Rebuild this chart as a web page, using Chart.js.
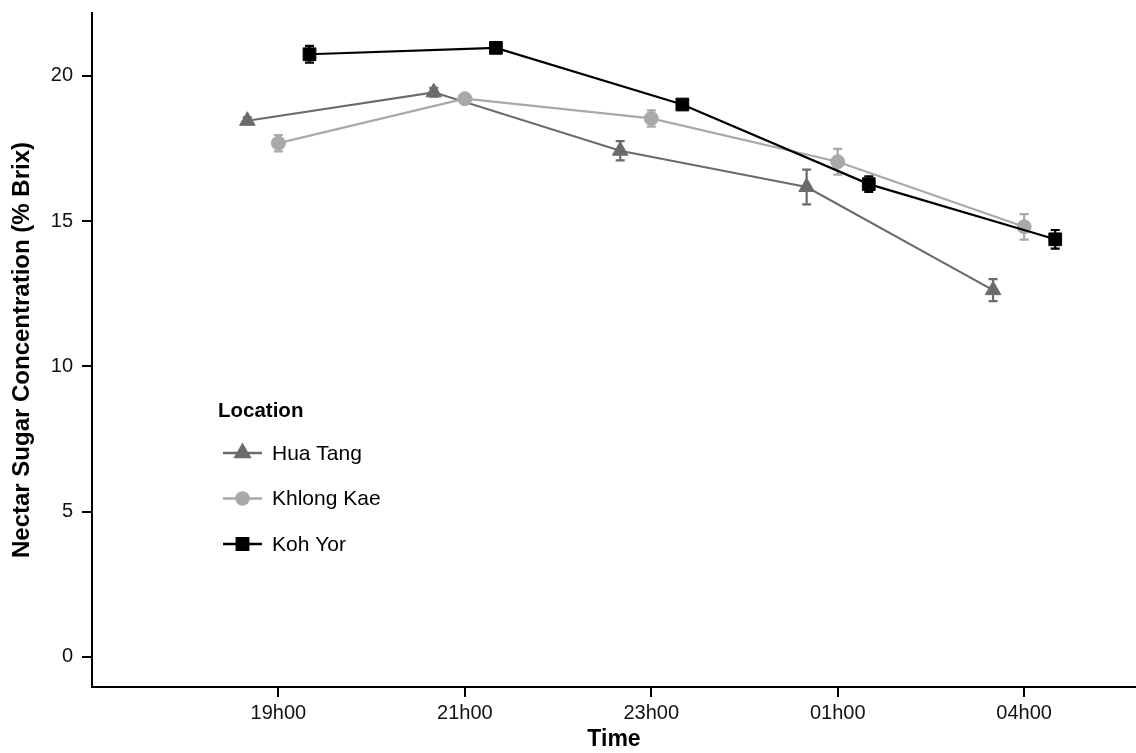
<!DOCTYPE html>
<html>
<head>
<meta charset="utf-8">
<title>Nectar Sugar Concentration</title>
<script src="https://cdn.jsdelivr.net/npm/chart.js@4/dist/chart.umd.min.js"></script>
<style>
  html, body { margin: 0; padding: 0; background: #fff; }
  #wrap { width: 1136px; height: 753px; position: relative; }
</style>
</head>
<body>
<div id="wrap"><canvas id="c"></canvas></div>
<script>
// Sampling times (x categories) and locations (series)
const times = ['19h00', '21h00', '23h00', '01h00', '04h00'];
const locations = ['Hua Tang', 'Khlong Kae', 'Koh Yor'];

// Mean nectar sugar concentration (% Brix) and standard error per time
const huaTang     = [18.45, 19.43, 17.42, 16.17, 12.62];
const huaTangSE   = [0.12, 0.15, 0.33, 0.60, 0.38];
const khlongKae   = [17.68, 19.21, 18.53, 17.04, 14.80];
const khlongKaeSE = [0.28, 0.10, 0.28, 0.44, 0.44];
const kohYor      = [20.74, 20.96, 19.01, 16.27, 14.37];
const kohYorSE    = [0.29, 0.10, 0.10, 0.27, 0.32];

const yTicks = [0, 5, 10, 15, 20];

const means = [huaTang, khlongKae, kohYor];
const errors = [huaTangSE, khlongKaeSE, kohYorSE];

// Series appearance
const colors = ['#6b6b6b', '#a9a9a9', '#000000'];
const shapes = ['triangle', 'circle', 'rect'];
const radii = [9, 7, 9];
const dodge = [-1 / 6, 0, 1 / 6];   // position_dodge(0.5) with three groups

const FONT = '"Liberation Sans", Arial, Helvetica, sans-serif';

const datasets = locations.map((name, s) => ({
  label: name,
  data: means[s].map((v, i) => ({ x: i + 1 + dodge[s], y: v, se: errors[s][i] })),
  borderColor: colors[s],
  backgroundColor: colors[s],
  borderWidth: 2.2,
  pointStyle: shapes[s],
  pointRadius: radii[s],
  pointHoverRadius: radii[s],
  pointBorderWidth: 1,
  pointBackgroundColor: colors[s],
  pointBorderColor: colors[s],
  tension: 0,
  order: 2 - s
}));

// Vertical error bars (mean ± SE) drawn with each dataset
const errorBars = {
  id: 'errorBars',
  afterDatasetDraw(chart, args) {
    const ds = chart.data.datasets[args.index];
    const xs = chart.scales.x, ys = chart.scales.y;
    const ctx = chart.ctx;
    ctx.save();
    ctx.strokeStyle = ds.borderColor;
    ctx.lineWidth = 2.2;
    ds.data.forEach(p => {
      const x = xs.getPixelForValue(p.x);
      const yLo = ys.getPixelForValue(p.y - p.se);
      const yHi = ys.getPixelForValue(p.y + p.se);
      const w = 4.5;
      ctx.beginPath();
      ctx.moveTo(x, yLo); ctx.lineTo(x, yHi);
      ctx.moveTo(x - w, yLo); ctx.lineTo(x + w, yLo);
      ctx.moveTo(x - w, yHi); ctx.lineTo(x + w, yHi);
      ctx.stroke();
    });
    ctx.restore();
  }
};

// Legend inside the plotting area
const insideLegend = {
  id: 'insideLegend',
  afterDraw(chart) {
    const ctx = chart.ctx;
    ctx.save();
    ctx.fillStyle = '#000';
    ctx.textBaseline = 'middle';
    ctx.textAlign = 'left';
    ctx.font = 'bold 20.5px ' + FONT;
    ctx.fillText('Location', 218, 411);
    ctx.font = '21px ' + FONT;
    chart.data.datasets.forEach((ds, s) => {
      const y = 453 + s * 45.5;
      ctx.strokeStyle = ds.borderColor;
      ctx.lineWidth = 2.5;
      ctx.beginPath();
      ctx.moveTo(223, y); ctx.lineTo(262, y);
      ctx.stroke();
      ctx.fillStyle = ds.borderColor;
      Chart.helpers.drawPoint(ctx, {
        pointStyle: ds.pointStyle, rotation: 0,
        radius: ds.pointRadius - 1, borderWidth: 1
      }, 242.5, y);
      ctx.fillStyle = '#000';
      ctx.fillText(ds.label, 272, y + 1);
    });
    ctx.restore();
  }
};

new Chart(document.getElementById('c'), {
  type: 'line',
  data: { datasets },
  plugins: [errorBars, insideLegend],
  options: {
    responsive: true,
    maintainAspectRatio: false,
    animation: false,
    layout: { autoPadding: false, padding: { top: 13, right: 0, bottom: 0, left: 0 } },
    plugins: { legend: { display: false }, tooltip: { enabled: false } },
    scales: {
      x: {
        type: 'linear',
        min: 0,
        max: 5.6,
        afterBuildTicks(scale) { scale.ticks = times.map((t, i) => ({ value: i + 1 })); },
        afterFit(scale) {
          scale.height = 66;
          scale.paddingLeft = 0; scale.paddingRight = 0;
        },
        ticks: {
          callback: (v) => times[Math.round(v) - 1],
          color: '#111',
          font: { family: FONT, size: 20 },
          padding: 4,
          maxRotation: 0,
          autoSkip: false
        },
        grid: { display: true, drawOnChartArea: false, drawTicks: true, tickLength: 10, color: '#000', lineWidth: 2 },
        border: { display: true, color: '#000', width: 2 },
        title: {
          display: true,
          text: 'Time',
          color: '#000',
          font: { family: FONT, size: 23, weight: 'bold' },
          padding: { top: 3, bottom: 0 }
        }
      },
      y: {
        type: 'linear',
        min: -1.04,
        max: 22.16,
        afterBuildTicks(scale) { scale.ticks = yTicks.map(v => ({ value: v })); },
        afterFit(scale) {
          scale.width = 92;
          scale.paddingTop = 0; scale.paddingBottom = 0;
        },
        ticks: {
          color: '#111',
          font: { family: FONT, size: 20 },
          padding: 9
        },
        grid: { display: true, drawOnChartArea: false, drawTicks: true, tickLength: 10, color: '#000', lineWidth: 2 },
        border: { display: true, color: '#000', width: 2 },
        title: {
          display: true,
          text: 'Nectar Sugar Concentration (% Brix)',
          color: '#000',
          font: { family: FONT, size: 24, weight: 'bold' },
          padding: { top: 8, bottom: 0 }
        }
      }
    }
  }
});
</script>
</body>
</html>
